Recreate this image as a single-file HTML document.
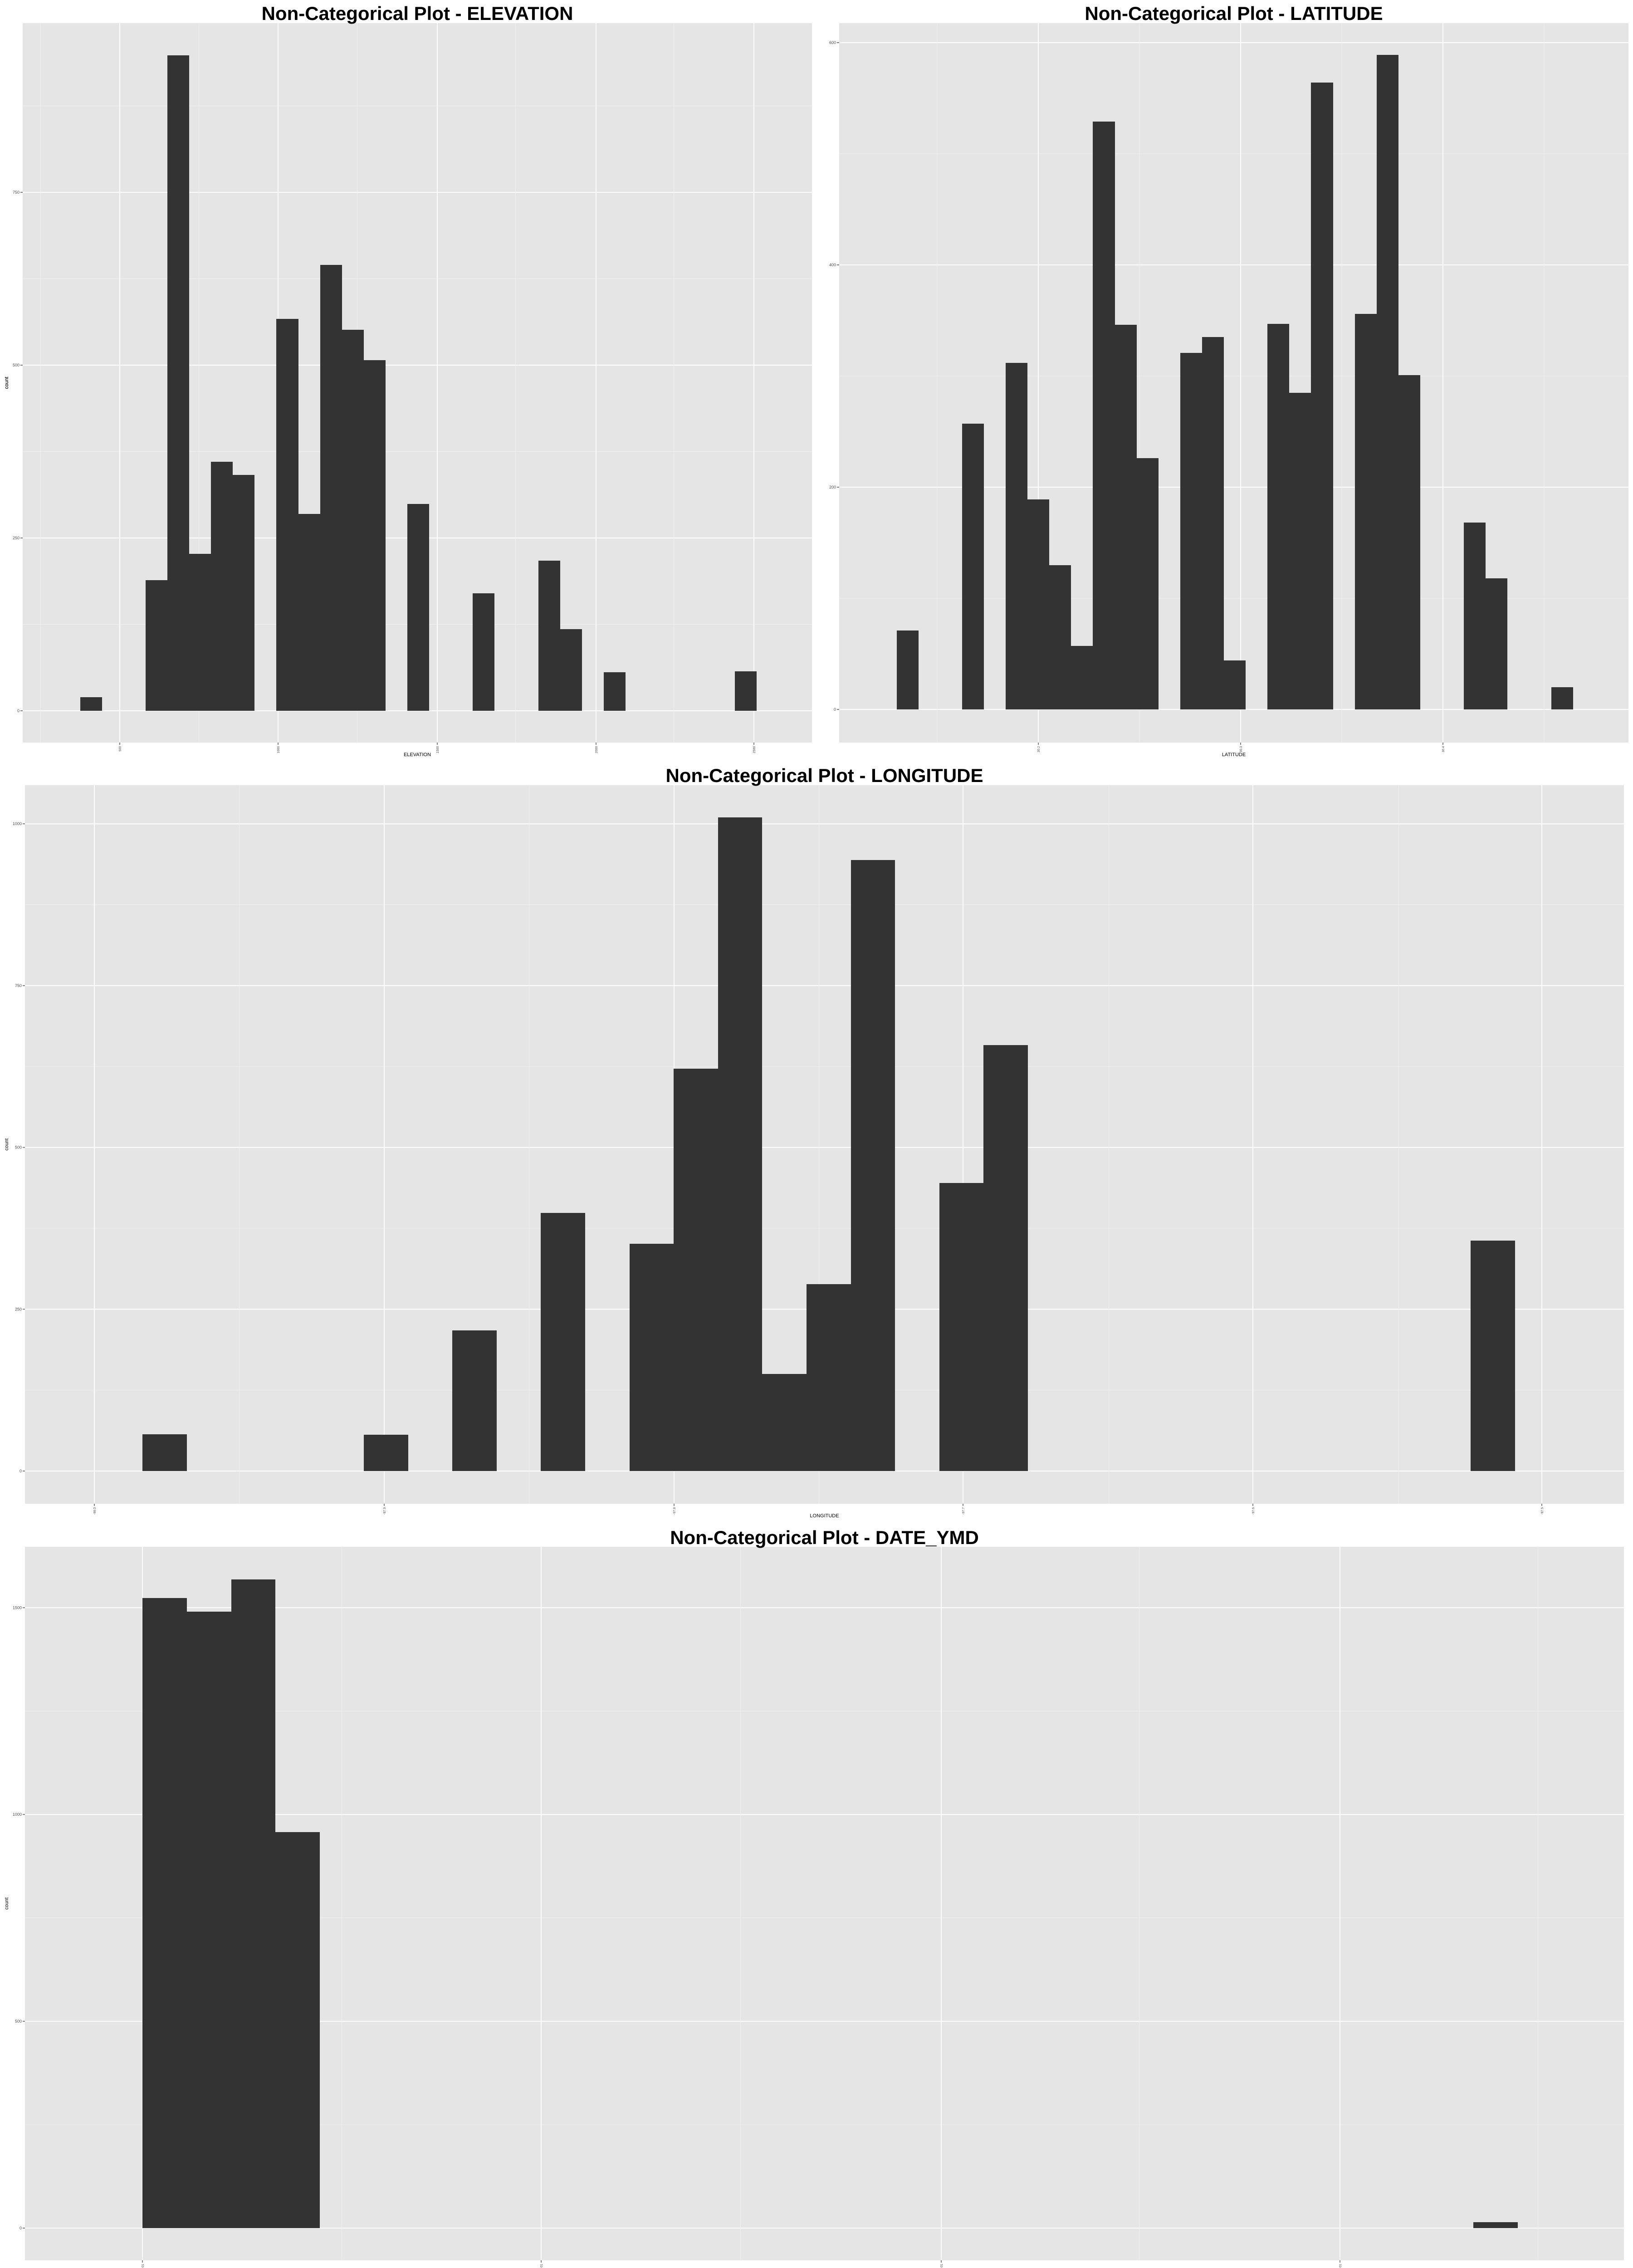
<!DOCTYPE html>
<html><head><meta charset="utf-8"><style>
html,body{margin:0;padding:0;background:#fff;width:3600px;height:5040px;overflow:hidden;}
svg{display:block;font-family:"Liberation Sans",Arial,sans-serif;}
</style></head><body>
<svg id="chart" width="3600" height="5040" viewBox="0 0 3600 5040" xmlns="http://www.w3.org/2000/svg"></svg>
<script>
// ELEVATION
const elevCounts = [20,0,0,189,948,227,360,341,0,567,285,645,551,507,0,299,0,0,170,0,0,217,118,0,56,0,0,0,0,0,57];
const elevYTicks = [0,250,500,750];
const elevXTicks = ["500","1000","1500","2000","2500"];
// LATITUDE
const latCounts = [71,0,0,257,0,312,189,130,57,529,346,226,0,321,335,44,0,347,285,564,0,356,589,301,0,0,168,118,0,0,20];
const latYTicks = [0,200,400,600];
const latXTicks = ["30.2","30.3","30.4"];
// LONGITUDE
const lonCounts = [57,0,0,0,0,56,0,217,0,399,0,351,622,1010,150,289,944,0,445,658,0,0,0,0,0,0,0,0,0,0,356];
const lonYTicks = [0,250,500,750,1000];
const lonXTicks = ["-98.0","-97.9","-97.8","-97.7","-97.6","-97.5"];
// DATE_YMD
const dateCounts = [1523,1490,1568,957,0,0,0,0,0,0,0,0,0,0,0,0,0,0,0,0,0,0,0,0,0,0,0,0,0,0,14];
const dateYTicks = [0,500,1000,1500];
const dateXTicks = ["2013-01-01","2013-04-01","2013-07-01","2013-10-01"];

const NS="http://www.w3.org/2000/svg";
const svg=document.getElementById('chart');
function mk(tag,attrs,parent){const e=document.createElementNS(NS,tag);for(const k in attrs)e.setAttribute(k,attrs[k]);(parent||svg).appendChild(e);return e;}

function panel(cfg){
  const g=mk('g',{});
  
  
  const bg=mk('rect',{x:cfg.left,y:cfg.top,width:cfg.right-cfg.left,height:cfg.bottom-cfg.top,fill:'#e5e5e5'},g);
  
  
  const yScale=v=>cfg.zeroY-v*cfg.pxPerUnit;
  const step=cfg.yTicks[1]-cfg.yTicks[0];
  for(let i=0;i<cfg.yTicks.length+1;i++){
    const y=yScale(cfg.yTicks[0]+step*(i+0.5));
    if(y>cfg.top){const l=mk('line',{x1:cfg.left,x2:cfg.right,y1:y,y2:y,stroke:'#f0f0f0','stroke-width':1},g);
    
    }
  }
  cfg.yTicks.forEach(v=>{
    const y=yScale(v);
    const l=mk('line',{x1:cfg.left,x2:cfg.right,y1:y,y2:y,stroke:'#ffffff','stroke-width':2},g);
    
    
    mk('line',{x1:cfg.left-5,x2:cfg.left,y1:y,y2:y,stroke:'#7f7f7f','stroke-width':2},g);
    const t=mk('text',{x:cfg.left-7,y:y+3,'font-size':9,fill:'#4d4d4d','text-anchor':'end'},g);
    t.textContent=v;
    
    
  });
  const xs=cfg.xTickPos;
  const dx=xs[1]-xs[0];
  for(let i=-1;i<xs.length;i++){
    const x=xs[0]+dx*(i+0.5);
    if(x>cfg.left&&x<cfg.right){const l=mk('line',{x1:x,x2:x,y1:cfg.top,y2:cfg.bottom,stroke:'#f0f0f0','stroke-width':1},g);
    
    }
  }
  cfg.xTicks.forEach((lab,i)=>{
    const x=xs[i];
    const l=mk('line',{x1:x,x2:x,y1:cfg.top,y2:cfg.bottom,stroke:'#ffffff','stroke-width':2},g);
    
    
    mk('line',{x1:x,x2:x,y1:cfg.bottom,y2:cfg.bottom+5,stroke:'#7f7f7f','stroke-width':2},g);
    const t=mk('text',{x:x,y:cfg.bottom+8,'font-size':7,fill:'#4d4d4d','text-anchor':'end',transform:`rotate(-90 ${x} ${cfg.bottom+8})`,dy:3},g);
    t.textContent=lab;
    
    
  });
  cfg.counts.forEach((c,i)=>{
    if(c<=0)return;
    const x0=Math.round(cfg.binStart+i*cfg.binW);
    const x1=Math.round(cfg.binStart+(i+1)*cfg.binW);
    const y=Math.round(yScale(c));
    const r=mk('rect',{x:x0,y:y,width:x1-x0,height:Math.round(cfg.zeroY)-y,fill:'#333333','shape-rendering':'crispEdges'},g);
    
    
  });
  const cx=(cfg.left+cfg.right)/2;
  const tt=mk('text',{x:cx,y:cfg.titleY,'font-size':42,'font-weight':'bold',fill:'#000','text-anchor':'middle','xml:space':'preserve'},g);
  tt.textContent='Non-Categorical Plot -  '+cfg.label;
  
  
  const xt=mk('text',{x:cx,y:cfg.bottom+30,'font-size':11,fill:'#000','text-anchor':'middle'},g);
  xt.textContent=cfg.label;
  
  
  const cy=(cfg.top+cfg.bottom)/2;
  const yt=mk('text',{x:18,y:cy,'font-size':11,fill:'#000','text-anchor':'middle',transform:`rotate(-90 18 ${cy})`},g);
  yt.textContent='count';
  
  
}

panel({name:'elevation',label:'ELEVATION',left:50,right:1790,top:51,bottom:1637,zeroY:1567,pxPerUnit:(1567-424)/750,
  yTicks:elevYTicks,xTicks:elevXTicks,xTickPos:[264,613,964,1314,1662],counts:elevCounts,binStart:176.5,binW:48.1,titleY:44});
panel({name:'latitude',label:'LATITUDE',left:1850,right:3590,top:51,bottom:1637,zeroY:1564,pxPerUnit:(1564-94)/600,
  yTicks:latYTicks,xTicks:latXTicks,xTickPos:[2289,2735,3181],counts:latCounts,binStart:1976.5,binW:48.1,titleY:44});
panel({name:'longitude',label:'LONGITUDE',left:55,right:3580,top:1731,bottom:3315,zeroY:3243,pxPerUnit:356.7/250,
  yTicks:lonYTicks,xTicks:lonXTicks,xTickPos:[208,847,1486,2123,2762,3399],counts:lonCounts,binStart:314,binW:97.6,titleY:1724});
panel({name:'date-ymd',label:'DATE_YMD',left:55,right:3580,top:3410,bottom:4983,zeroY:4912,pxPerUnit:455.9/500,
  yTicks:dateYTicks,xTicks:dateXTicks,xTickPos:[314,1193,2075,2954],counts:dateCounts,binStart:314,binW:97.8,titleY:3404});
</script>
</body></html>
